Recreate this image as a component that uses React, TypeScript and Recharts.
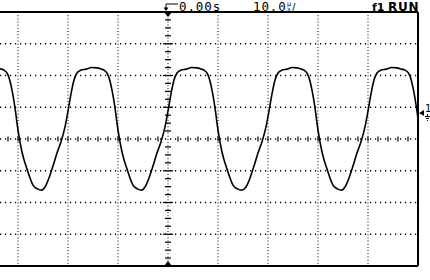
import { ComposedChart, Line, Scatter, XAxis, YAxis, CartesianGrid, ReferenceDot } from 'recharts'

// time in µs (10 µs/div, trigger at 0), level in divisions
const timeUs = [
  -35.3, -34.2, -33.3, -32.8, -32.0, -31.2, -30.6, -30.0, -29.2, -28.0, -27.0, -26.1,
  -25.3, -24.6, -23.8, -23.0, -22.2, -21.4, -20.6, -20.0, -19.4, -18.8, -18.2, -17.4, -16.4,
  -15.3, -14.2, -13.3, -12.8, -12.0, -11.2, -10.6, -10.0, -9.2, -8.0, -7.0, -6.1,
  -5.3, -4.6, -3.8, -3.0, -2.2, -1.4, -0.6, 0.0, 0.6, 1.2, 1.8, 2.6, 3.6,
  4.7, 5.8, 6.7, 7.2, 8.0, 8.8, 9.4, 10.0, 10.8, 12.0, 13.0, 13.9,
  14.7, 15.6, 16.4, 17.2, 18.0, 18.8, 19.6, 20.2, 20.8, 21.4, 22.0, 22.8, 23.8,
  24.8, 25.8, 26.7, 27.2, 28.0, 28.8, 29.4, 30.0, 30.8, 32.0, 33.0, 33.9,
  34.7, 35.4, 36.2, 37.0, 37.8, 38.6, 39.4, 40.0, 40.6, 41.2, 41.8, 42.6, 43.6,
  44.7, 45.8, 46.7, 47.4, 48.3, 49.1, 49.7, 50.3,
]
const levelDiv = [
  2.25, 2.24, 2.2, 2.17, 2.02, 1.54, 0.98, 0.28, -0.41, -1.04, -1.45, -1.57,
  -1.61, -1.51, -1.23, -0.85, -0.44, -0.09, 0.38, 0.88, 1.42, 1.86, 2.08, 2.17, 2.2,
  2.25, 2.24, 2.2, 2.17, 2.02, 1.54, 0.98, 0.28, -0.41, -1.04, -1.45, -1.57,
  -1.61, -1.51, -1.23, -0.85, -0.44, -0.09, 0.38, 0.88, 1.42, 1.86, 2.08, 2.17, 2.2,
  2.25, 2.24, 2.2, 2.17, 2.02, 1.54, 0.98, 0.28, -0.41, -1.04, -1.45, -1.57,
  -1.61, -1.51, -1.23, -0.85, -0.44, -0.09, 0.38, 0.88, 1.42, 1.86, 2.08, 2.17, 2.2,
  2.25, 2.24, 2.2, 2.17, 2.02, 1.54, 0.98, 0.28, -0.41, -1.04, -1.45, -1.57,
  -1.61, -1.51, -1.23, -0.85, -0.44, -0.09, 0.38, 0.88, 1.42, 1.86, 2.08, 2.17, 2.2,
  2.25, 2.24, 2.2, 2.17, 2.02, 1.54, 0.98, 0.28,
]

const xTicks = [-30, -20, -10, 0, 10, 20, 30, 40]
const yTicks = [-3, -2, -1, 0, 1, 2, 3]
const frameX = [50]
const frameY = [-4, 4]
// small ticks on the centre axes
const centreRowUs = [
  -32, -30, -28, -26, -24, -22, -20, -18, -16, -14, -12, -10, -8, -6, -4, -2, 2, 4, 6, 8,
  10, 12, 14, 16, 18, 20, 22, 24, 26, 28, 30, 32, 34, 36, 38, 40, 42, 44, 46, 48,
]
const centreColDiv = [
  -3.75, -3.5, -3.25, -3, -2.75, -2.5, -2.25, -2, -1.75, -1.5, -1.25, -1, -0.75, -0.5, -0.25,
  0.25, 0.5, 0.75, 1, 1.25, 1.5, 1.75, 2, 2.25, 2.5, 2.75, 3, 3.25, 3.5, 3.75,
]
const groundDiv = 0.82

const trace = timeUs.map((t, i) => ({ t, v: levelDiv[i] }))
const rowTicks = centreRowUs.map((t) => ({ t, v: 0 }))
const colTicks = centreColDiv.map((v) => ({ t: 0, v }))

const ink = '#000'

export default function App() {
  return (
    <div style={{ position: 'absolute', left: 0, top: 0, width: 430, height: 280, background: '#fff' }}>
      <ComposedChart width={430} height={280} margin={{ top: 12, right: 12, bottom: 14, left: 0 }}>
        <XAxis dataKey="t" type="number" domain={[-33.6, 50]} ticks={xTicks} allowDataOverflow hide />
        <YAxis type="number" domain={[-4, 4]} ticks={yTicks} allowDataOverflow hide />
        <CartesianGrid vertical={false} horizontalValues={yTicks} syncWithTicks stroke={ink} strokeWidth={1.3} strokeDasharray="1.2 3.8" />
        <CartesianGrid horizontal={false} verticalValues={xTicks} syncWithTicks stroke={ink} strokeWidth={1} strokeDasharray="1 2.175" />
        <CartesianGrid horizontalValues={frameY} verticalValues={frameX} syncWithTicks stroke={ink} strokeWidth={2} />
        <Scatter
          data={rowTicks}
          dataKey="v"
          isAnimationActive={false}
          shape={(p: any) => <line x1={p.cx} y1={p.cy - 2.5} x2={p.cx} y2={p.cy + 2.5} stroke={ink} strokeWidth={1.2} />}
        />
        <Scatter
          data={colTicks}
          dataKey="v"
          isAnimationActive={false}
          shape={(p: any) => {
            const w = Number.isInteger(p.payload.v) ? 5 : 3
            return <line x1={p.cx - w} y1={p.cy} x2={p.cx + w} y2={p.cy} stroke={ink} strokeWidth={1.2} />
          }}
        />
        <Scatter
          data={[{ t: 0, v: 4 }]}
          dataKey="v"
          isAnimationActive={false}
          shape={(p: any) => <polygon points={`${p.cx - 4},${p.cy} ${p.cx + 4},${p.cy} ${p.cx},${p.cy + 5}`} fill={ink} />}
        />
        <Scatter
          data={[{ t: 0, v: -4 }]}
          dataKey="v"
          isAnimationActive={false}
          shape={(p: any) => <polygon points={`${p.cx - 4},${p.cy} ${p.cx + 4},${p.cy} ${p.cx},${p.cy - 5}`} fill={ink} />}
        />
        <Line data={trace} dataKey="v" type="monotone" stroke={ink} strokeWidth={1.6} dot={false} isAnimationActive={false} />
        <ReferenceDot
          x={50}
          y={groundDiv}
          ifOverflow="visible"
          shape={(p: any) => (
            <g>
              <polygon points={`${p.cx + 1},${p.cy} ${p.cx + 6},${p.cy - 3} ${p.cx + 6},${p.cy + 3}`} fill={ink} />
              <text x={p.cx + 7} y={p.cy - 1} fontSize={10} fontFamily="DejaVu Sans" fill={ink}>1</text>
              <line x1={p.cx + 9.5} y1={p.cy + 1} x2={p.cx + 9.5} y2={p.cy + 3} stroke={ink} />
              <line x1={p.cx + 7} y1={p.cy + 3.5} x2={p.cx + 12} y2={p.cy + 3.5} stroke={ink} />
              <line x1={p.cx + 8} y1={p.cy + 5.5} x2={p.cx + 11} y2={p.cy + 5.5} stroke={ink} />
              <line x1={p.cx + 9} y1={p.cy + 7.5} x2={p.cx + 10} y2={p.cy + 7.5} stroke={ink} />
            </g>
          )}
        />
      </ComposedChart>
      <svg width={430} height={12} overflow="visible" style={{ position: 'absolute', left: 0, top: 0 }}>
        <path d="M166 10 V4 H178" stroke={ink} strokeWidth={1} fill="none" />
        <polygon points="163.5,7.5 168.5,7.5 166,11" fill={ink} />
        <text x={179} y={10.5} fontSize={12.5} letterSpacing={0.9} fontFamily="DejaVu Sans Mono" fill={ink}>0.00s</text>
        <text x={253} y={10.5} fontSize={12.5} letterSpacing={0.9} fontFamily="DejaVu Sans Mono" fill={ink}>10.0</text>
        <text x={287} y={5.5} fontSize={6.5} fontFamily="DejaVu Sans" fill={ink}>µ</text>
        <text x={287.5} y={11} fontSize={5.5} fontFamily="DejaVu Sans" fill={ink}>s</text>
        <text x={292} y={10.5} fontSize={10} fontFamily="DejaVu Sans" fill={ink}>/</text>
        <text x={372} y={10.5} fontSize={11} fontWeight="bold" fontFamily="DejaVu Sans" fill={ink}>ƒ1</text>
        <text x={388} y={10.5} fontSize={12} fontWeight="bold" letterSpacing={0.7} fontFamily="DejaVu Sans" fill={ink}>RUN</text>
      </svg>
    </div>
  )
}
